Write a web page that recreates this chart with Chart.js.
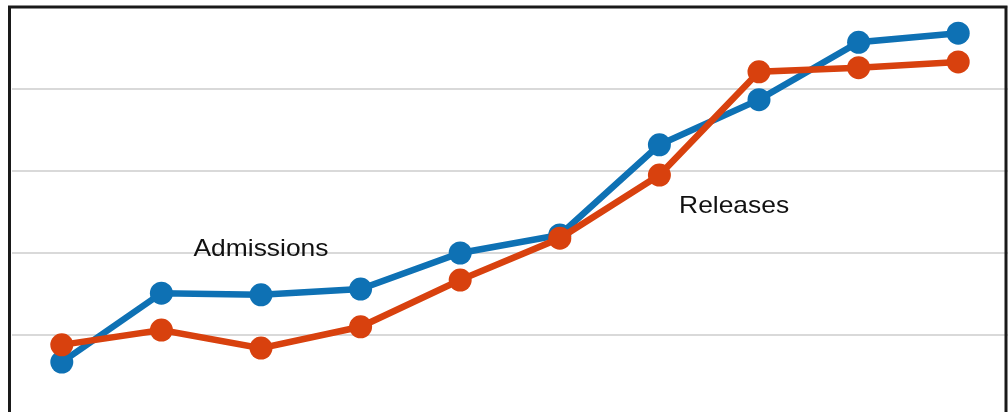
<!DOCTYPE html>
<html>
<head>
<meta charset="utf-8">
<script src="https://cdn.jsdelivr.net/npm/chart.js@4/dist/chart.umd.min.js"></script>
<style>
  html, body { margin: 0; padding: 0; background: #fff; overflow: hidden; }
  #wrap { width: 1008px; height: 412px; overflow: hidden; }
  #box { width: 1008px; height: 424px; }
</style>
</head>
<body>
<div id="wrap"><div id="box"><canvas id="flowChart"></canvas></div></div>
<script>
// Datos del gráfico
const periods = ['1', '2', '3', '4', '5', '6', '7', '8', '9', '10'];
const admissions = [0.67, 1.51, 1.49, 1.56, 2.0, 2.22, 3.32, 3.87, 4.57, 4.68];
const releases = [0.88, 1.06, 0.84, 1.10, 1.67, 2.18, 2.95, 4.21, 4.26, 4.33];
const yTicks = [0, 1, 2, 3, 4, 5];
// Etiquetas dentro del gráfico: [texto, índice de categoría, valor]
const seriesLabels = [
    ['Admissions', 2, 2.05],
    ['Releases', 6.75, 2.57]
];

// Marco (arriba, izquierda, derecha) y etiquetas de texto
const framePlugin = {
    id: 'frame',
    afterDraw(chart) {
        const { ctx, chartArea: a, scales } = chart;
        const left = a.left - 2.5;
        const right = a.right - 2;
        ctx.save();
        ctx.strokeStyle = '#1a1a1a';
        ctx.lineWidth = 3;
        ctx.beginPath();
        ctx.moveTo(left, a.bottom + 10);
        ctx.lineTo(left, a.top);
        ctx.lineTo(right, a.top);
        ctx.lineTo(right, a.bottom + 10);
        ctx.stroke();

        ctx.fillStyle = '#111';
        ctx.font = '24px "Liberation Sans", Arial, sans-serif';
        ctx.textAlign = 'center';
        ctx.textBaseline = 'middle';
        const step = scales.x.getPixelForValue(1) - scales.x.getPixelForValue(0);
        seriesLabels.forEach(([text, idx, val]) => {
            const x = scales.x.getPixelForValue(0) + idx * step;
            const y = scales.y.getPixelForValue(val);
            ctx.save();
            ctx.translate(x, y);
            ctx.scale(1.1, 1);
            ctx.fillText(text, 0, 0);
            ctx.restore();
        });
        ctx.restore();
    }
};

const ctx = document.getElementById('flowChart').getContext('2d');
const flowChart = new Chart(ctx, {
    type: 'line',
    data: {
        labels: periods,
        datasets: [{
            label: 'Admissions',
            data: admissions,
            borderColor: '#0E71B4',
            backgroundColor: '#0E71B4',
            borderWidth: 6.5,
            pointRadius: 11.5,
            pointHoverRadius: 11.5,
            pointBorderWidth: 0,
            tension: 0,
            order: 2
        }, {
            label: 'Releases',
            data: releases,
            borderColor: '#D8410E',
            backgroundColor: '#D8410E',
            borderWidth: 6.5,
            pointRadius: 11.5,
            pointHoverRadius: 11.5,
            pointBorderWidth: 0,
            tension: 0,
            order: 1
        }]
    },
    options: {
        responsive: true,
        maintainAspectRatio: false,
        animation: false,
        layout: { autoPadding: false, padding: { left: 12, right: 0, top: 7, bottom: 7 } },
        plugins: {
            legend: { display: false },
            tooltip: { enabled: false }
        },
        scales: {
            x: {
                display: false,
                offset: true
            },
            y: {
                min: 0,
                max: 5,
                afterBuildTicks(axis) {
                    axis.ticks = yTicks.map(v => ({ value: v }));
                },
                grid: { color: '#d9d9d9', lineWidth: 2, drawTicks: false },
                border: { display: false },
                ticks: { display: false, padding: 0 }
            }
        }
    },
    plugins: [framePlugin]
});
</script>
</body>
</html>
